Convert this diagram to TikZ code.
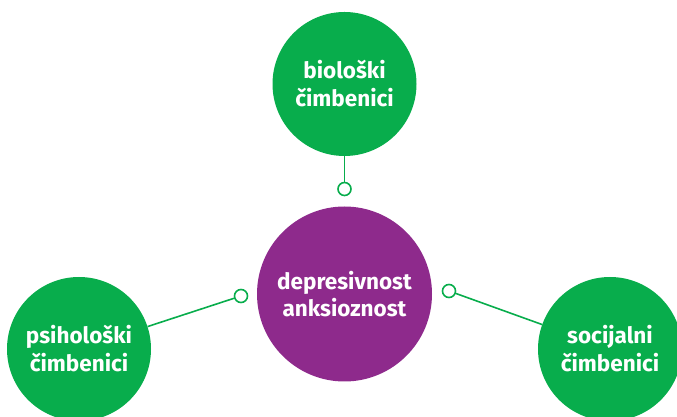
\documentclass[tikz,border=0pt]{standalone}
\usepackage{fontspec}
\setmainfont{Fira Sans}
\definecolor{factgreen}{RGB}{8,173,76}
\definecolor{mainpurple}{RGB}{142,42,140}

\begin{document}
\begin{tikzpicture}[x=1pt, y=1pt,
    hub/.style={circle, fill=mainpurple, minimum size=175pt, inner sep=0pt,
      text=white, align=center, font=\bfseries\fontsize{22.5}{27}\selectfont},
    factor/.style={circle, fill=factgreen, minimum size=144pt, inner sep=0pt,
      text=white, align=center, font=\bfseries\fontsize{22.5}{28}\selectfont},
    knob/.style={circle, draw=factgreen, fill=white, line width=1.6pt,
      minimum size=13pt, inner sep=0pt},
    link/.style={factgreen, line width=1.6pt}]
  \useasboundingbox (0,0) rectangle (677,417);

  \node[hub] (dep) at (344.5,123) {depresivnost\\anksioznost};

  \node[factor] (bio) at (344.5,333) {biološki\\čimbenici};
  \node[factor] (psi) at (79,68) {psihološki\\čimbenici};
  \node[factor] (soc) at (610,68) {socijalni\\čimbenici};

  \node[knob] (kbio) at (344.5,228) {};
  \node[knob] (kpsi) at (241,121) {};
  \node[knob] (ksoc) at (449,126) {};

  \draw[link] (bio) -- (kbio);
  \draw[link] (psi) -- (kpsi);
  \draw[link] (soc) -- (ksoc);
\end{tikzpicture}
\end{document}
